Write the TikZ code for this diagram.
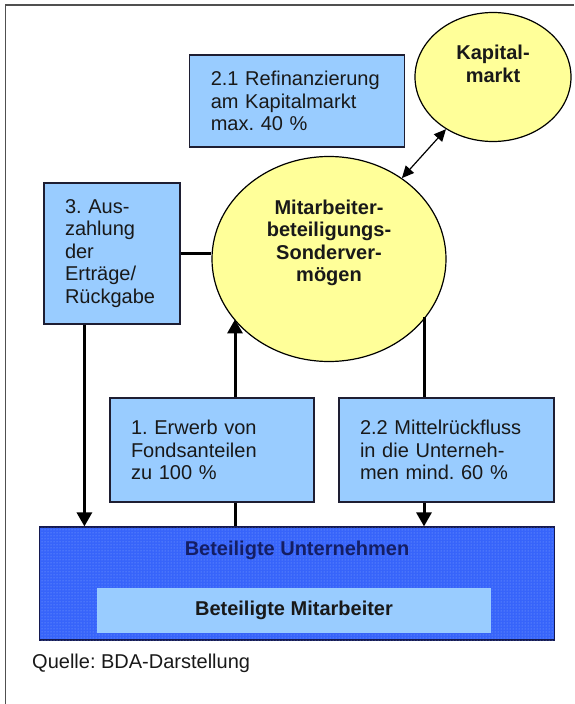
\documentclass[tikz,border=0pt]{standalone}
\usepackage{fontspec}
\setmainfont{Liberation Sans}
\usetikzlibrary{arrows.meta,positioning,shapes.geometric,patterns}
\definecolor{boxblue}{RGB}{153,204,255}
\definecolor{boxline}{RGB}{30,30,50}
\definecolor{ovalyellow}{RGB}{255,255,153}
\definecolor{unterblue}{RGB}{55,100,250}
\definecolor{dotblue}{RGB}{135,170,255}
\definecolor{unterline}{RGB}{20,25,80}
\definecolor{navytext}{RGB}{20,30,100}
\definecolor{textdark}{RGB}{25,25,25}
\definecolor{framegray}{RGB}{80,80,80}
\frenchspacing

\begin{document}
\begin{tikzpicture}[x=1pt, y=-1pt,
  txt/.style={font=\fontsize{20pt}{22.5pt}\selectfont},
  boldtxt/.style={font=\fontsize{20pt}{22.5pt}\selectfont\bfseries},
  infobox/.style={rectangle, draw=boxline, line width=1.2pt, fill=boxblue,
                  align=left, inner xsep=21pt, text=textdark, txt},
  oval/.style={ellipse, draw=black, line width=1.2pt, fill=ovalyellow},
  flow/.style={line width=3pt, draw=black},
  >={Triangle[length=14pt,width=15pt]}
]
  \useasboundingbox (0,0) rectangle (574,704);

  % Frame
  \draw[framegray, line width=1.5pt] (5.5,704) -- (5.5,5) -- (574,5);

  % Capital market and special fund
  \node[oval, minimum width=156pt, minimum height=129pt] (kapital) at (493,77) {};
  \node[boldtxt, align=center, text=textdark] (kapitaltxt) at (493,64) {Kapital-\\markt};
  \node[oval, minimum width=234pt, minimum height=205pt] (mitarb) at (329,259) {};
  \node[boldtxt, align=center, text=textdark] (mitarbtxt) at (329,243)
    {Mitarbeiter-\\beteiligungs-\\Sonderver-\\mögen};

  % Info boxes
  \node[infobox, text width=172.5pt, minimum height=92pt] (box21) at (297,101)
    {2.1 Refinanzierung\\am Kapitalmarkt\\max. 40 \%};
  \node[infobox, text width=94pt, minimum height=141pt] (box3) at (112,253.5)
    {3. Aus-\\zahlung\\der\\Erträge/\\Rückgabe};
  \node[infobox, text width=162pt, minimum height=104pt] (box1) at (212,450)
    {1. Erwerb von\\Fondsanteilen\\zu 100 \%};
  \node[infobox, text width=173pt, minimum height=104pt] (box22) at (446.5,450)
    {2.2 Mittelrückfluss\\in die Unterneh-\\men mind. 60 \%};

  % Companies and employees
  \node[rectangle, draw=unterline, line width=1.2pt, fill=unterblue,
        postaction={pattern=dots, pattern color=dotblue},
        minimum width=514.5pt, minimum height=113pt] (unter) at (297,583.5) {};
  \node[boldtxt, text=navytext] (untertxt) at (297,550) {Beteiligte Unternehmen};
  \node[fill=boxblue, minimum width=393.5pt, minimum height=45pt,
        boldtxt, text=textdark] (mitinner) at (294,610.5) {Beteiligte Mitarbeiter};

  % Source
  \node[txt, anchor=west, inner sep=0pt, text=textdark] (quelle) at (32,663)
    {Quelle: BDA-Darstellung};

  % Connectors
  \draw[{Triangle[length=12pt,width=11pt]}-{Triangle[length=12pt,width=11pt]},
        line width=1.2pt] (mitarb) -- (kapital);
  \draw[flow] (box3.east) -- (box3.east -| mitarb.west);

  \coordinate (auszahl) at ([xshift=41pt]box3.south west);
  \draw[flow,->] (auszahl) -- (auszahl |- unter.north);

  \coordinate (erwerb) at ([xshift=23pt]box1.north);
  \draw[flow,->] (erwerb) -- ++(0,-78);
  \draw[flow] ([xshift=23pt]box1.south) -- (erwerb |- unter.north);

  \coordinate (rueck) at ([xshift=-22.5pt]box22.south);
  \draw[flow] ([xshift=-22.5pt]box22.north) -- ++(0,-80);
  \draw[flow,->] (rueck) -- (rueck |- unter.north);
\end{tikzpicture}
\end{document}
